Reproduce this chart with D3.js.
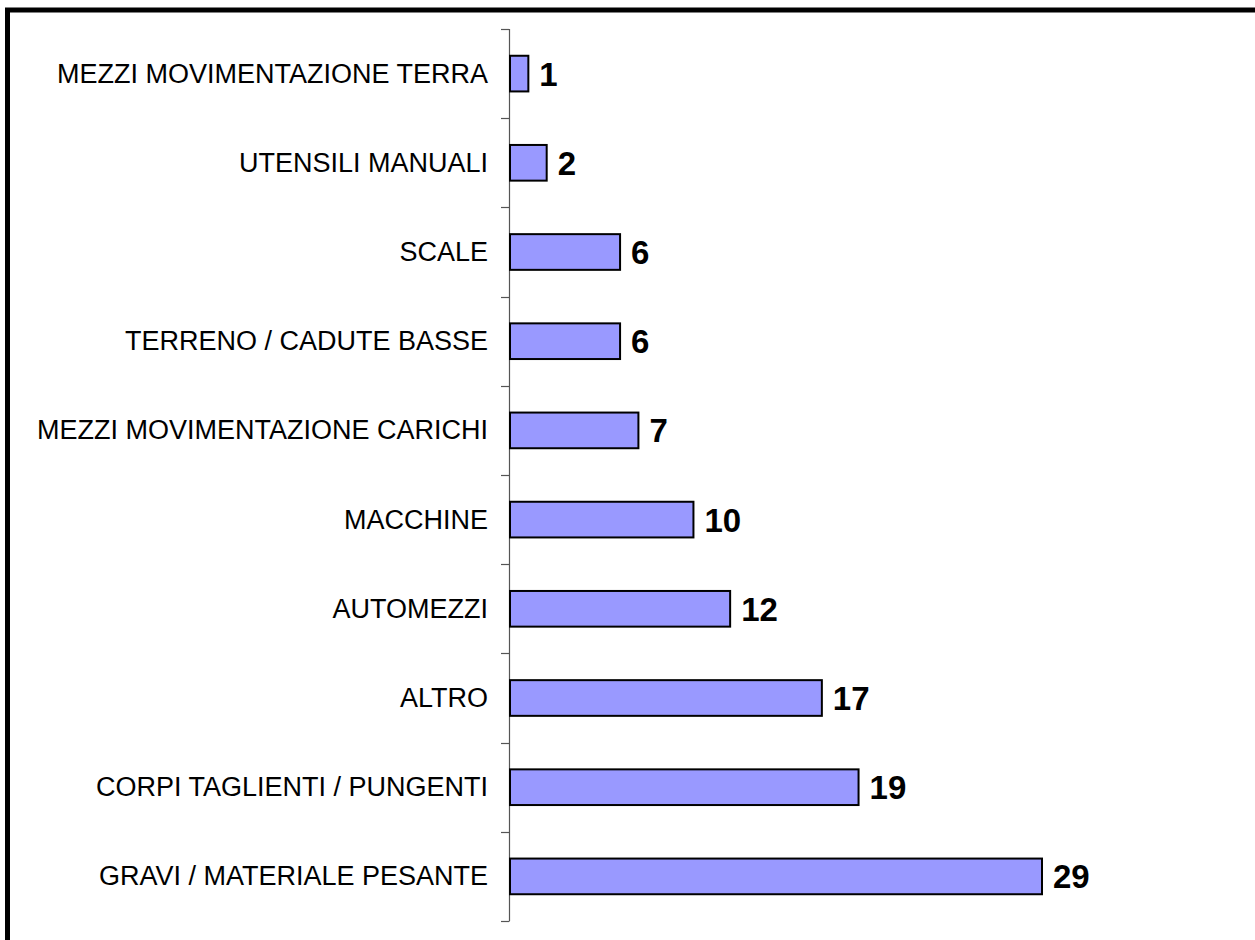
<!DOCTYPE html>
<html>
<head>
<meta charset="utf-8">
<script src="https://cdn.jsdelivr.net/npm/d3@7"></script>
<style>
    html, body { margin: 0; padding: 0; background: #fff; overflow: hidden; }
    svg { display: block; }
</style>
</head>
<body>
<div id="container"></div>
<script>
const width = 1255;
const height = 940;

// categories top to bottom, and their counts
const categories = [
    'MEZZI MOVIMENTAZIONE TERRA',
    'UTENSILI MANUALI',
    'SCALE',
    'TERRENO / CADUTE BASSE',
    'MEZZI MOVIMENTAZIONE CARICHI',
    'MACCHINE',
    'AUTOMEZZI',
    'ALTRO',
    'CORPI TAGLIENTI / PUNGENTI',
    'GRAVI / MATERIALE PESANTE'
];
const values = [1, 2, 6, 6, 7, 10, 12, 17, 19, 29];

const axisX = 510;
const plotTop = 29;
const plotBottom = 921;

let data = categories.map((c, i) => ({ name: c, value: values[i] }));

let svg = d3.select('#container').append('svg')
    .attr('width', width)
    .attr('height', height);

// thick frame, runs off the right and bottom edges
svg.append('rect')
    .attr('x', 7.5)
    .attr('y', 10)
    .attr('width', width + 20)
    .attr('height', height + 20)
    .attr('fill', 'none')
    .attr('stroke', '#000')
    .attr('stroke-width', 5);

let y = d3.scaleBand()
    .domain(categories)
    .range([plotTop, plotBottom])
    .paddingInner(0.6)
    .paddingOuter(0.3);

let x = d3.scaleLinear()
    .domain([0, 29])
    .range([axisX, 1042]);

// category axis: line plus ticks between the bands
let step = y.step();
let tickPos = d3.range(categories.length + 1).map(i => plotTop + i * step);

let axis = svg.append('g')
    .attr('stroke', '#555')
    .attr('stroke-width', 1.2);

axis.append('line')
    .attr('x1', axisX - 0.5)
    .attr('x2', axisX - 0.5)
    .attr('y1', plotTop)
    .attr('y2', plotBottom);

axis.selectAll('.tick')
    .data(tickPos)
    .join('line')
    .attr('class', 'tick')
    .attr('x1', axisX - 9)
    .attr('x2', axisX - 0.5)
    .attr('y1', d => Math.round(d) + 0.5)
    .attr('y2', d => Math.round(d) + 0.5);

// bars
svg.append('g')
    .selectAll('rect')
    .data(data)
    .join('rect')
    .attr('x', x(0))
    .attr('y', d => y(d.name))
    .attr('width', d => x(d.value) - x(0))
    .attr('height', y.bandwidth())
    .attr('fill', '#9999ff')
    .attr('stroke', '#000')
    .attr('stroke-width', 2);

// category labels
svg.append('g')
    .selectAll('text')
    .data(data)
    .join('text')
    .attr('x', axisX - 22)
    .attr('y', d => y(d.name) + y.bandwidth() / 2 + 9)
    .attr('text-anchor', 'end')
    .attr('font-family', 'Liberation Sans, Arial, sans-serif')
    .attr('font-size', 27)
    .attr('fill', '#000')
    .text(d => d.name);

// value labels
svg.append('g')
    .selectAll('text')
    .data(data)
    .join('text')
    .attr('x', d => x(d.value) + 11)
    .attr('y', d => y(d.name) + y.bandwidth() / 2 + 12)
    .attr('font-family', 'Liberation Sans, Arial, sans-serif')
    .attr('font-weight', 'bold')
    .attr('font-size', 33)
    .attr('fill', '#000')
    .text(d => d.value);
</script>
</body>
</html>
